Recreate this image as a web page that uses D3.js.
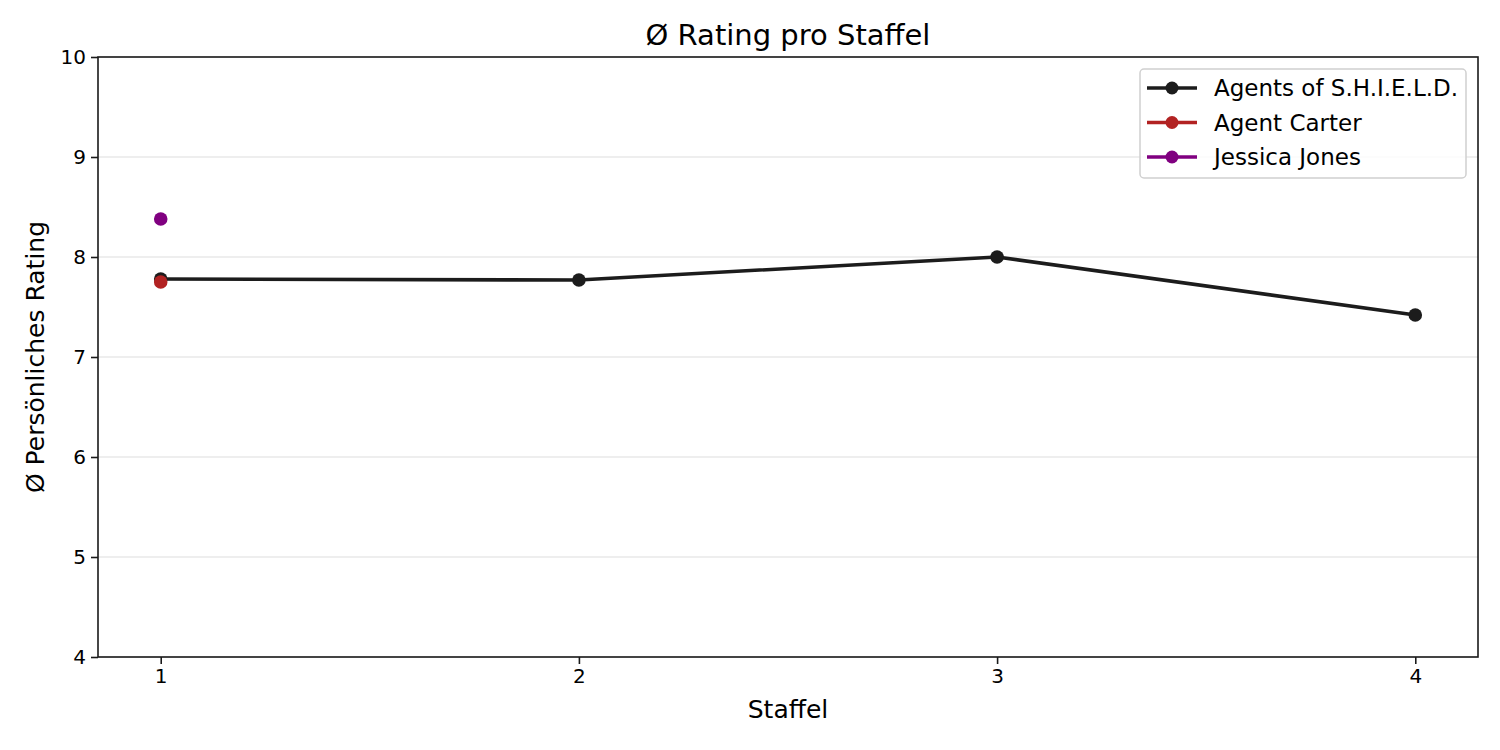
<!DOCTYPE html>
<html>
<head>
<meta charset="utf-8">
<script src="https://cdn.jsdelivr.net/npm/d3@7"></script>
<style>
  body { margin: 0; background: #fff; }
  text { font-family: "DejaVu Sans", sans-serif; fill: #000; }
</style>
</head>
<body>
<svg id="chart" width="1500" height="750"></svg>
<script>
// data
const seasons = [1, 2, 3, 4];
const yTicks = [4, 5, 6, 7, 8, 9, 10];
const shieldVals = [7.78, 7.77, 8.0, 7.42];
const carterVals = [7.75];
const jonesVals = [8.38];

const seriesNames = ["Agents of S.H.I.E.L.D.", "Agent Carter", "Jessica Jones"];
const seriesColors = ["#1c1c1c", "#b22222", "#800080"];

const series = [
  {name: seriesNames[0], color: seriesColors[0], pts: shieldVals.map((v, i) => [seasons[i], v])},
  {name: seriesNames[1], color: seriesColors[1], pts: carterVals.map((v, i) => [seasons[i], v])},
  {name: seriesNames[2], color: seriesColors[2], pts: jonesVals.map((v, i) => [seasons[i], v])}
];

const L = 98, R = 1478, T = 57, B = 657;
const svg = d3.select("#chart");

let x = d3.scaleLinear().domain([0.85, 4.15]).range([L, R]);
let y = d3.scaleLinear().domain([4, 10]).range([B, T]);

// grid
svg.append("g")
  .selectAll("line")
  .data(yTicks)
  .join("line")
  .attr("x1", L).attr("x2", R)
  .attr("y1", d => y(d)).attr("y2", d => y(d))
  .attr("stroke", "#e8e8e8")
  .attr("stroke-width", 1.3);

// axes
let xAxis = svg.append("g")
  .attr("transform", `translate(0,${B})`)
  .call(d3.axisBottom(x).tickValues(seasons).tickFormat(d3.format("d")).tickSize(7).tickPadding(5));
let yAxis = svg.append("g")
  .attr("transform", `translate(${L},0)`)
  .call(d3.axisLeft(y).tickValues(yTicks).tickFormat(d3.format("d")).tickSize(7).tickPadding(5));
[xAxis, yAxis].forEach(a => {
  a.select(".domain").remove();
  a.attr("font-size", null).attr("font-family", null);
  a.selectAll("text").style("font-size", "20px").style("font-family", "DejaVu Sans");
  a.selectAll("line").attr("stroke", "#1a1a1a").attr("stroke-width", 1.6);
});

// frame
svg.append("rect")
  .attr("x", L).attr("y", T).attr("width", R - L).attr("height", B - T)
  .attr("fill", "none").attr("stroke", "#1a1a1a").attr("stroke-width", 1.6);

// lines and points
let line = d3.line().x(d => x(d[0])).y(d => y(d[1]));
series.forEach(s => {
  svg.append("path")
    .datum(s.pts)
    .attr("d", line)
    .attr("fill", "none")
    .attr("stroke", s.color)
    .attr("stroke-width", 3.6)
    .attr("stroke-linejoin", "round");
  svg.append("g")
    .selectAll("circle")
    .data(s.pts)
    .join("circle")
    .attr("cx", d => x(d[0]))
    .attr("cy", d => y(d[1]))
    .attr("r", 6.8)
    .attr("fill", s.color);
});

// titles
svg.append("text")
  .attr("x", (L + R) / 2).attr("y", 45)
  .attr("text-anchor", "middle")
  .style("font-size", "29px")
  .text("Ø Rating pro Staffel");
svg.append("text")
  .attr("x", (L + R) / 2).attr("y", 718)
  .attr("text-anchor", "middle")
  .style("font-size", "25px")
  .text("Staffel");
svg.append("text")
  .attr("transform", `translate(44,${(T + B) / 2}) rotate(-90)`)
  .attr("text-anchor", "middle")
  .style("font-size", "25px")
  .text("Ø Persönliches Rating");

// legend
let lg = svg.append("g").attr("transform", "translate(1140,69)");
lg.append("rect")
  .attr("width", 326).attr("height", 109)
  .attr("rx", 4)
  .attr("fill", "#fff").attr("fill-opacity", 0.8)
  .attr("stroke", "#d0d0d0").attr("stroke-width", 1.5);
series.forEach((s, i) => {
  let cy = 19 + i * 34.5;
  lg.append("line")
    .attr("x1", 7).attr("x2", 57).attr("y1", cy).attr("y2", cy)
    .attr("stroke", s.color).attr("stroke-width", 3.6);
  lg.append("circle").attr("cx", 32).attr("cy", cy).attr("r", 6.5).attr("fill", s.color);
  lg.append("text")
    .attr("x", 74).attr("y", cy + 8)
    .style("font-size", "23px")
    .text(s.name);
});
</script>
</body>
</html>
